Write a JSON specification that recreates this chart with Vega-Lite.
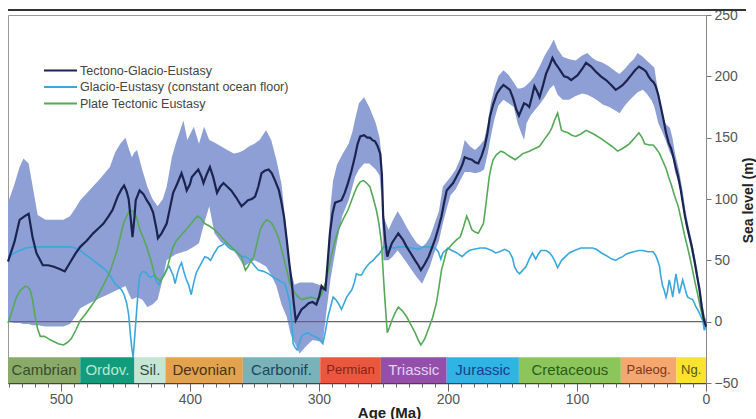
{
"$schema": "https://vega.github.io/schema/vega-lite/v6.json",
"width": 698, "height": 368,
"autosize": "none",
"padding": {"left": 8, "top": 15, "right": 50, "bottom": 36},
"background": "white",
"config": {"view": {"stroke": "#9a9a9a", "strokeWidth": 1}, "font": "Liberation Sans", "axis": {"labelOverlap": false}},
"resolve": {"axis": {"x": "independent"}},
"datasets": {
"band": [
{"age":541,"lo":0,"hi":97},{"age":536,"lo":-1,"hi":112},{"age":532,"lo":-1,"hi":126},{"age":529,"lo":-2,"hi":133},{"age":525,"lo":-2,"hi":129},{"age":522,"lo":-3,"hi":111},{"age":518,"lo":-3,"hi":87},{"age":512,"lo":-4,"hi":83},{"age":505,"lo":-4,"hi":83},{"age":498,"lo":-4,"hi":83},{"age":493,"lo":-2,"hi":86},{"age":489,"lo":4,"hi":92},{"age":485,"lo":11,"hi":99},{"age":478,"lo":15,"hi":107},{"age":470,"lo":19,"hi":116},{"age":462,"lo":23,"hi":126},{"age":458,"lo":25,"hi":138},{"age":454,"lo":27,"hi":145},{"age":450,"lo":29,"hi":150},{"age":447,"lo":22,"hi":140},{"age":445,"lo":18,"hi":134},{"age":443,"lo":19,"hi":138},{"age":441,"lo":20,"hi":140},{"age":437,"lo":18,"hi":124},{"age":433,"lo":12,"hi":110},{"age":429,"lo":14,"hi":100},{"age":425,"lo":18,"hi":94},{"age":421,"lo":35,"hi":100},{"age":418,"lo":50,"hi":110},{"age":414,"lo":53,"hi":134},{"age":411,"lo":55,"hi":145},{"age":405,"lo":57,"hi":164},{"age":402,"lo":58,"hi":148},{"age":397,"lo":61,"hi":159},{"age":393,"lo":64,"hi":145},{"age":389,"lo":80,"hi":159},{"age":385,"lo":94,"hi":148},{"age":381,"lo":72,"hi":146},{"age":376,"lo":65,"hi":143},{"age":371,"lo":62,"hi":140},{"age":366,"lo":58,"hi":137},{"age":362,"lo":52,"hi":138},{"age":358,"lo":45,"hi":140},{"age":354,"lo":48,"hi":143},{"age":350,"lo":50,"hi":145},{"age":346,"lo":48,"hi":148},{"age":341,"lo":45,"hi":156},{"age":337,"lo":38,"hi":148},{"age":333,"lo":29,"hi":132},{"age":329,"lo":14,"hi":112},{"age":325,"lo":4,"hi":72},{"age":322,"lo":-10,"hi":42},{"age":319,"lo":-17,"hi":30},{"age":315,"lo":-26,"hi":32},{"age":310,"lo":-20,"hi":32},{"age":305,"lo":-15,"hi":32},{"age":300,"lo":-16,"hi":30},{"age":297,"lo":-17,"hi":28},{"age":294,"lo":10,"hi":35},{"age":291,"lo":35,"hi":95},{"age":289,"lo":47,"hi":115},{"age":286,"lo":65,"hi":128},{"age":282,"lo":86,"hi":136},{"age":277,"lo":99,"hi":145},{"age":274,"lo":110,"hi":155},{"age":272,"lo":118,"hi":165},{"age":269,"lo":124,"hi":178},{"age":265,"lo":129,"hi":183},{"age":261,"lo":129,"hi":175},{"age":256,"lo":124,"hi":162},{"age":253,"lo":119,"hi":150},{"age":251.5,"lo":100,"hi":135},{"age":250,"lo":50,"hi":86},{"age":246,"lo":50,"hi":75},{"age":243,"lo":53,"hi":82},{"age":239,"lo":58,"hi":90},{"age":236,"lo":54,"hi":85},{"age":232,"lo":48,"hi":77},{"age":228,"lo":42,"hi":70},{"age":224,"lo":36,"hi":64},{"age":220,"lo":31,"hi":61},{"age":217,"lo":38,"hi":64},{"age":214,"lo":45,"hi":69},{"age":211,"lo":55,"hi":78},{"age":207,"lo":66,"hi":90},{"age":204,"lo":80,"hi":110},{"age":201,"lo":92,"hi":114},{"age":198,"lo":103,"hi":118},{"age":194,"lo":108,"hi":124},{"age":190,"lo":116,"hi":134},{"age":187,"lo":122,"hi":148},{"age":183,"lo":122,"hi":143},{"age":179,"lo":121,"hi":140},{"age":175,"lo":122,"hi":144},{"age":172,"lo":124,"hi":148},{"age":169,"lo":138,"hi":162},{"age":167,"lo":150,"hi":177},{"age":164,"lo":165,"hi":190},{"age":161,"lo":176,"hi":200},{"age":157,"lo":181,"hi":205},{"age":153,"lo":178,"hi":201},{"age":149,"lo":175,"hi":195},{"age":146,"lo":162,"hi":190},{"age":144,"lo":156,"hi":190},{"age":141,"lo":148,"hi":191},{"age":139,"lo":162,"hi":193},{"age":136,"lo":168,"hi":196},{"age":133,"lo":172,"hi":200},{"age":129,"lo":177,"hi":208},{"age":125,"lo":183,"hi":217},{"age":121,"lo":190,"hi":224},{"age":118,"lo":193,"hi":230},{"age":115,"lo":185,"hi":222},{"age":111,"lo":181,"hi":216},{"age":106,"lo":181,"hi":214},{"age":101,"lo":184,"hi":213},{"age":96,"lo":186,"hi":217},{"age":92,"lo":185,"hi":219},{"age":88,"lo":183,"hi":215},{"age":85,"lo":181,"hi":213},{"age":80,"lo":177,"hi":211},{"age":75,"lo":175,"hi":208},{"age":70,"lo":172,"hi":204},{"age":67,"lo":170,"hi":202},{"age":63,"lo":176,"hi":206},{"age":59,"lo":181,"hi":211},{"age":56,"lo":184,"hi":214},{"age":53,"lo":187,"hi":219},{"age":49,"lo":189,"hi":216},{"age":46,"lo":186,"hi":213},{"age":42,"lo":180,"hi":209},{"age":40,"lo":175,"hi":207},{"age":37,"lo":162,"hi":186},{"age":34,"lo":155,"hi":168},{"age":31,"lo":147,"hi":161},{"age":28,"lo":138,"hi":158},{"age":26,"lo":134,"hi":150},{"age":24,"lo":122,"hi":137},{"age":21,"lo":112,"hi":124},{"age":18,"lo":95,"hi":106},{"age":16,"lo":80,"hi":91},{"age":13,"lo":66,"hi":75},{"age":11,"lo":56,"hi":66},{"age":9,"lo":46,"hi":55},{"age":7,"lo":34,"hi":44},{"age":5,"lo":20,"hi":29},{"age":3,"lo":6,"hi":16},{"age":1,"lo":-4,"hi":4},{"age":0,"lo":-7,"hi":2}
],
"tge": [
{"age":541,"v":49},{"age":536,"v":65},{"age":532,"v":83},{"age":528,"v":86},{"age":525,"v":88},{"age":522,"v":69},{"age":519,"v":56},{"age":514,"v":46},{"age":510,"v":46},{"age":506,"v":45},{"age":501,"v":43},{"age":497,"v":41},{"age":493,"v":48},{"age":489,"v":55},{"age":485,"v":61},{"age":480,"v":66},{"age":475,"v":72},{"age":471,"v":76},{"age":467,"v":80},{"age":463,"v":86},{"age":460,"v":91},{"age":456,"v":102},{"age":453,"v":108},{"age":451,"v":111},{"age":449,"v":106},{"age":447.5,"v":100},{"age":446,"v":85},{"age":444.5,"v":69},{"age":443,"v":85},{"age":442,"v":99},{"age":439,"v":107},{"age":436,"v":104},{"age":433.5,"v":99},{"age":431,"v":95},{"age":428.5,"v":89},{"age":426,"v":76},{"age":424.8,"v":68},{"age":422,"v":72},{"age":418,"v":80},{"age":415,"v":95},{"age":413,"v":105},{"age":410,"v":112},{"age":406.5,"v":121},{"age":404,"v":113},{"age":402.5,"v":107},{"age":400,"v":112},{"age":398.5,"v":118},{"age":396,"v":121},{"age":393.5,"v":124},{"age":391,"v":118},{"age":389.5,"v":113},{"age":387,"v":120},{"age":384.5,"v":126},{"age":382,"v":118},{"age":379,"v":105},{"age":376.5,"v":110},{"age":374,"v":113},{"age":371,"v":110},{"age":368,"v":107},{"age":364,"v":101},{"age":360,"v":94},{"age":357,"v":97},{"age":355,"v":99},{"age":352,"v":100},{"age":349.5,"v":102},{"age":347,"v":110},{"age":344.5,"v":121},{"age":342,"v":123},{"age":339,"v":124},{"age":336.5,"v":121},{"age":334,"v":115},{"age":331,"v":107},{"age":329,"v":97},{"age":327,"v":85},{"age":325,"v":67},{"age":323,"v":48},{"age":321,"v":31},{"age":319.5,"v":15},{"age":318,"v":1},{"age":316,"v":5},{"age":313.5,"v":10},{"age":311,"v":12},{"age":308,"v":15},{"age":305,"v":16},{"age":302,"v":14},{"age":300,"v":20},{"age":298,"v":29},{"age":296.5,"v":27},{"age":295,"v":26},{"age":293.5,"v":45},{"age":291.5,"v":72},{"age":289.5,"v":88},{"age":287.5,"v":97},{"age":285,"v":98},{"age":282.5,"v":99},{"age":280,"v":105},{"age":277.5,"v":113},{"age":275,"v":122},{"age":272,"v":135},{"age":270,"v":145},{"age":268,"v":151},{"age":265,"v":152},{"age":262.5,"v":150},{"age":260.5,"v":150},{"age":258.5,"v":148},{"age":256.5,"v":147},{"age":254.5,"v":143},{"age":252.5,"v":137},{"age":251.2,"v":120},{"age":250.2,"v":86},{"age":248.5,"v":65},{"age":247,"v":53},{"age":245.5,"v":58},{"age":243.5,"v":64},{"age":241,"v":68},{"age":238.5,"v":72},{"age":235,"v":67},{"age":232,"v":61},{"age":229,"v":56},{"age":225.5,"v":50},{"age":223,"v":46},{"age":221,"v":42},{"age":218,"v":47},{"age":215,"v":53},{"age":212.5,"v":60},{"age":210,"v":67},{"age":207.5,"v":76},{"age":205,"v":86},{"age":203,"v":97},{"age":201,"v":107},{"age":198.5,"v":110},{"age":196,"v":113},{"age":193,"v":119},{"age":190.5,"v":124},{"age":188.5,"v":129},{"age":187,"v":134},{"age":184.5,"v":133},{"age":181.5,"v":132},{"age":179,"v":130},{"age":176.5,"v":129},{"age":174,"v":135},{"age":171.5,"v":143},{"age":169.5,"v":153},{"age":167.5,"v":167},{"age":165,"v":177},{"age":162,"v":186},{"age":159.5,"v":190},{"age":157,"v":193},{"age":154.5,"v":191},{"age":152,"v":189},{"age":149.5,"v":182},{"age":147,"v":173},{"age":145,"v":168},{"age":143,"v":173},{"age":141,"v":178},{"age":139,"v":177},{"age":137,"v":175},{"age":135,"v":183},{"age":133,"v":192},{"age":131,"v":188},{"age":129,"v":183},{"age":126.5,"v":192},{"age":124,"v":202},{"age":121.5,"v":208},{"age":119,"v":215},{"age":117,"v":211},{"age":115,"v":208},{"age":112.5,"v":204},{"age":110,"v":200},{"age":107,"v":199},{"age":104.5,"v":197},{"age":102,"v":199},{"age":99.5,"v":201},{"age":96,"v":206},{"age":93,"v":211},{"age":89,"v":208},{"age":85.5,"v":204},{"age":81.5,"v":200},{"age":77.5,"v":197},{"age":73.5,"v":193},{"age":70,"v":189},{"age":67,"v":191},{"age":64.5,"v":193},{"age":61,"v":197},{"age":58,"v":201},{"age":55,"v":205},{"age":52,"v":208},{"age":49,"v":206},{"age":46.5,"v":204},{"age":44.5,"v":200},{"age":42.5,"v":197},{"age":40.5,"v":195},{"age":39,"v":192},{"age":37,"v":185},{"age":35,"v":175},{"age":33,"v":165},{"age":31,"v":154},{"age":29,"v":146},{"age":27,"v":141},{"age":25,"v":133},{"age":23.5,"v":126},{"age":21.5,"v":118},{"age":19.5,"v":107},{"age":18,"v":97},{"age":16.3,"v":86},{"age":14.5,"v":77},{"age":13,"v":70},{"age":11,"v":61},{"age":9,"v":50},{"age":7.2,"v":39},{"age":5,"v":26},{"age":3.3,"v":12},{"age":1.5,"v":1},{"age":0,"v":-4}
],
"ge": [
{"age":541,"v":53},{"age":536,"v":56},{"age":532,"v":58},{"age":527,"v":60},{"age":521,"v":61},{"age":514,"v":61},{"age":508,"v":61},{"age":500,"v":61},{"age":493,"v":61},{"age":489,"v":60},{"age":485,"v":58},{"age":480,"v":54},{"age":475,"v":50},{"age":470,"v":46},{"age":465,"v":42},{"age":461,"v":36},{"age":458,"v":31},{"age":455,"v":28},{"age":453,"v":26},{"age":451,"v":22},{"age":449,"v":15},{"age":447.5,"v":6},{"age":446,"v":-12},{"age":445,"v":-22},{"age":444,"v":-29},{"age":443,"v":-15},{"age":442,"v":-1},{"age":440.5,"v":20},{"age":439,"v":37},{"age":437.5,"v":40},{"age":436,"v":41},{"age":434,"v":40},{"age":432,"v":37},{"age":430,"v":36},{"age":428,"v":38},{"age":426,"v":33},{"age":424,"v":30},{"age":422,"v":35},{"age":420,"v":38},{"age":418,"v":43},{"age":416,"v":45},{"age":414,"v":40},{"age":413,"v":38},{"age":411.5,"v":31},{"age":409.5,"v":40},{"age":408,"v":45},{"age":406.5,"v":48},{"age":404.5,"v":40},{"age":403,"v":35},{"age":401,"v":30},{"age":399,"v":22},{"age":397,"v":32},{"age":395,"v":40},{"age":393,"v":44},{"age":391,"v":48},{"age":388.5,"v":53},{"age":386,"v":52},{"age":384,"v":50},{"age":381,"v":56},{"age":378,"v":61},{"age":375.5,"v":62},{"age":373,"v":64},{"age":370.5,"v":61},{"age":368,"v":59},{"age":365,"v":58},{"age":362,"v":55},{"age":360,"v":53},{"age":357,"v":53},{"age":354,"v":51},{"age":351,"v":47},{"age":347,"v":42},{"age":343,"v":41},{"age":339,"v":39},{"age":335,"v":36},{"age":331.5,"v":34},{"age":328.5,"v":32},{"age":326.5,"v":31},{"age":324.5,"v":24},{"age":322.5,"v":15},{"age":321,"v":-2},{"age":320,"v":-18},{"age":318.5,"v":-21},{"age":317,"v":-23},{"age":315,"v":-17},{"age":313.5,"v":-12},{"age":311,"v":-10},{"age":308.5,"v":-9},{"age":306,"v":-11},{"age":303,"v":-12},{"age":300,"v":-14},{"age":298.5,"v":-16},{"age":297,"v":-18},{"age":295,"v":-8},{"age":293,"v":4},{"age":291,"v":12},{"age":289,"v":20},{"age":287,"v":18},{"age":285,"v":15},{"age":283.5,"v":12},{"age":282.5,"v":10},{"age":280.5,"v":15},{"age":278.5,"v":20},{"age":276.5,"v":23},{"age":274.5,"v":26},{"age":272.5,"v":32},{"age":271,"v":39},{"age":269,"v":38},{"age":267,"v":38},{"age":265,"v":42},{"age":263,"v":45},{"age":260.5,"v":48},{"age":258,"v":50},{"age":255.5,"v":53},{"age":253.5,"v":55},{"age":251.5,"v":58},{"age":250,"v":61},{"age":246,"v":61},{"age":242,"v":60},{"age":238,"v":61},{"age":233,"v":61},{"age":228,"v":60},{"age":223,"v":59},{"age":219,"v":61},{"age":214,"v":61},{"age":210,"v":60},{"age":207.5,"v":57},{"age":205.5,"v":51},{"age":204,"v":56},{"age":202,"v":58},{"age":200,"v":60},{"age":197,"v":58},{"age":193,"v":56},{"age":189,"v":53},{"age":186,"v":56},{"age":183.5,"v":58},{"age":180,"v":59},{"age":175,"v":60},{"age":171,"v":60},{"age":166,"v":58},{"age":163,"v":56},{"age":160,"v":57},{"age":156,"v":59},{"age":152.5,"v":57},{"age":150,"v":52},{"age":148.5,"v":45},{"age":146.5,"v":41},{"age":144.5,"v":39},{"age":142,"v":42},{"age":139.5,"v":45},{"age":137,"v":51},{"age":134.5,"v":56},{"age":132,"v":51},{"age":130,"v":55},{"age":128,"v":58},{"age":124,"v":58},{"age":121,"v":56},{"age":119,"v":53},{"age":117,"v":49},{"age":115,"v":44},{"age":113,"v":48},{"age":112,"v":50},{"age":109,"v":53},{"age":106,"v":56},{"age":102,"v":58},{"age":97,"v":60},{"age":92,"v":60},{"age":88,"v":60},{"age":85,"v":59},{"age":81,"v":56},{"age":77.5,"v":54},{"age":73,"v":51},{"age":70,"v":50},{"age":67,"v":52},{"age":64.5,"v":53},{"age":62,"v":55},{"age":59.5,"v":56},{"age":56,"v":57},{"age":52,"v":58},{"age":49,"v":58},{"age":45,"v":57},{"age":41,"v":57},{"age":39,"v":54},{"age":37.5,"v":50},{"age":36,"v":45},{"age":35,"v":37},{"age":33.6,"v":29},{"age":32.5,"v":26},{"age":31,"v":20},{"age":30,"v":24},{"age":28.5,"v":34},{"age":27,"v":27},{"age":25.8,"v":20},{"age":24.5,"v":30},{"age":23.3,"v":39},{"age":22,"v":31},{"age":20.7,"v":23},{"age":19.5,"v":28},{"age":18.1,"v":34},{"age":16.5,"v":28},{"age":15,"v":22},{"age":14.2,"v":20},{"age":12.5,"v":19},{"age":10.3,"v":18},{"age":9,"v":15},{"age":7.8,"v":12},{"age":6,"v":9},{"age":3.9,"v":4},{"age":2.5,"v":1},{"age":1.3,"v":-7},{"age":0,"v":-3}
],
"pte": [
{"age":541,"v":-1},{"age":538,"v":8},{"age":534.5,"v":20},{"age":531,"v":26},{"age":527.6,"v":29},{"age":525.5,"v":28},{"age":523.8,"v":26},{"age":522,"v":18},{"age":520,"v":4},{"age":518,"v":-6},{"age":516,"v":-12},{"age":513,"v":-12},{"age":511,"v":-13},{"age":508,"v":-15},{"age":506,"v":-16},{"age":502,"v":-18},{"age":498,"v":-19},{"age":495,"v":-17},{"age":492,"v":-14},{"age":488.5,"v":-7},{"age":485,"v":1},{"age":481,"v":6},{"age":477,"v":12},{"age":473,"v":18},{"age":469,"v":26},{"age":465,"v":34},{"age":461.5,"v":42},{"age":459,"v":50},{"age":456.5,"v":58},{"age":454,"v":69},{"age":451.5,"v":80},{"age":449,"v":86},{"age":446.5,"v":91},{"age":444.5,"v":90},{"age":442.5,"v":88},{"age":440.5,"v":82},{"age":438.8,"v":75},{"age":436,"v":68},{"age":433.5,"v":61},{"age":430,"v":49},{"age":427,"v":37},{"age":425,"v":35},{"age":423,"v":33},{"age":420.5,"v":37},{"age":418,"v":42},{"age":415.5,"v":52},{"age":413,"v":61},{"age":410.5,"v":66},{"age":408,"v":69},{"age":405.5,"v":72},{"age":403,"v":75},{"age":399,"v":80},{"age":396,"v":84},{"age":394,"v":86},{"age":391.5,"v":84},{"age":388.5,"v":80},{"age":385,"v":78},{"age":381,"v":75},{"age":378,"v":72},{"age":375.5,"v":69},{"age":372,"v":65},{"age":368,"v":61},{"age":364,"v":57},{"age":360,"v":53},{"age":358.5,"v":47},{"age":357,"v":42},{"age":355,"v":45},{"age":352.5,"v":50},{"age":350.5,"v":53},{"age":348,"v":64},{"age":345.5,"v":75},{"age":343,"v":80},{"age":340.5,"v":83},{"age":338.5,"v":82},{"age":336.5,"v":80},{"age":334,"v":75},{"age":331.5,"v":69},{"age":329.5,"v":61},{"age":327.5,"v":53},{"age":325,"v":42},{"age":322.5,"v":31},{"age":320.5,"v":27},{"age":318.5,"v":23},{"age":316,"v":20},{"age":313.5,"v":18},{"age":310,"v":19},{"age":306,"v":20},{"age":303,"v":19},{"age":300.5,"v":18},{"age":298,"v":22},{"age":295.5,"v":29},{"age":293,"v":40},{"age":290.5,"v":53},{"age":288,"v":64},{"age":285,"v":75},{"age":281,"v":84},{"age":277.5,"v":91},{"age":275,"v":98},{"age":272.5,"v":105},{"age":270.5,"v":110},{"age":268,"v":114},{"age":265.5,"v":115},{"age":263,"v":113},{"age":260.5,"v":110},{"age":258,"v":101},{"age":255.5,"v":91},{"age":253.5,"v":80},{"age":251.5,"v":64},{"age":250.5,"v":45},{"age":249,"v":20},{"age":248,"v":5},{"age":247,"v":-9},{"age":245.5,"v":-5},{"age":243.5,"v":1},{"age":241,"v":7},{"age":238.5,"v":12},{"age":235.5,"v":9},{"age":232,"v":4},{"age":229,"v":-2},{"age":225.5,"v":-9},{"age":223,"v":-15},{"age":221,"v":-19},{"age":218,"v":-14},{"age":215.5,"v":-7},{"age":212,"v":3},{"age":209,"v":15},{"age":207,"v":28},{"age":205,"v":42},{"age":203,"v":50},{"age":201,"v":58},{"age":198.5,"v":61},{"age":196,"v":64},{"age":193,"v":67},{"age":190.5,"v":69},{"age":188,"v":77},{"age":185.5,"v":86},{"age":183.5,"v":81},{"age":181.5,"v":75},{"age":179,"v":73},{"age":176.5,"v":72},{"age":174.5,"v":76},{"age":172.5,"v":80},{"age":171,"v":92},{"age":169.5,"v":105},{"age":168,"v":118},{"age":166.5,"v":126},{"age":165,"v":132},{"age":162.5,"v":136},{"age":159,"v":139},{"age":156.5,"v":138},{"age":154,"v":136},{"age":151,"v":134},{"age":148,"v":132},{"age":145.5,"v":134},{"age":142,"v":137},{"age":139.5,"v":138},{"age":137,"v":139},{"age":133,"v":141},{"age":129,"v":143},{"age":125,"v":149},{"age":121.5,"v":154},{"age":119.5,"v":158},{"age":117.5,"v":164},{"age":115,"v":170},{"age":113.5,"v":163},{"age":112,"v":156},{"age":110,"v":155},{"age":107,"v":154},{"age":104,"v":152},{"age":101,"v":151},{"age":97,"v":153},{"age":93,"v":156},{"age":89,"v":154},{"age":85.5,"v":152},{"age":81,"v":149},{"age":77,"v":146},{"age":73,"v":143},{"age":68.5,"v":139},{"age":65,"v":141},{"age":62,"v":143},{"age":59.5,"v":145},{"age":56,"v":149},{"age":52,"v":154},{"age":49.5,"v":150},{"age":47.5,"v":145},{"age":44,"v":144},{"age":41,"v":144},{"age":38.5,"v":141},{"age":36,"v":137},{"age":33.5,"v":131},{"age":31,"v":125},{"age":29,"v":118},{"age":27,"v":112},{"age":24.5,"v":103},{"age":21.5,"v":94},{"age":19,"v":82},{"age":16.3,"v":69},{"age":13.5,"v":57},{"age":11,"v":45},{"age":8.5,"v":32},{"age":6,"v":20},{"age":4,"v":10},{"age":2,"v":1},{"age":0,"v":-3}
],
"periods": [
{"name":"Cambrian","label":"Cambrian","start":541,"end":485},
{"name":"Ordovician","label":"Ordov.","start":485,"end":443},
{"name":"Silurian","label":"Sil.","start":443,"end":419},
{"name":"Devonian","label":"Devonian","start":419,"end":359},
{"name":"Carboniferous","label":"Carbonif.","start":359,"end":299},
{"name":"Permian","label":"Permian","start":299,"end":252},
{"name":"Triassic","label":"Triassic","start":252,"end":201},
{"name":"Jurassic","label":"Jurassic","start":201,"end":145},
{"name":"Cretaceous","label":"Cretaceous","start":145,"end":66},
{"name":"Paleogene","label":"Paleog.","start":66,"end":23},
{"name":"Neogene","label":"Ng.","start":23,"end":0}
]
},
"layer": [
{"data": {"name": "band"},
 "mark": {"type": "area", "color": "#8E9FD5", "opacity": 1},
 "encoding": {
  "x": {"field": "age", "type": "quantitative",
        "scale": {"domain": [0, 541], "reverse": true, "nice": false, "zero": false},
        "axis": {"orient": "bottom", "grid": false,
                 "values": [0,100,200,300,400,500],
                 "tickSize": 8, "tickColor": "#666", "domainColor": "#444", "domainWidth": 1.5,
                 "labelColor": "#555", "labelFontSize": 14, "labelPadding": 1, "labelFlush": false, "labelOverlap": false,
                 "title": "Age (Ma)", "titleFontSize": 15, "titleFontWeight": "bold", "titleColor": "#222",
                 "titleX": 381, "titleY": 22, "titleBaseline": "top", "titleAlign": "center"}},
  "y": {"field": "lo", "type": "quantitative",
        "scale": {"domain": [-50, 250], "nice": false, "zero": false},
        "axis": {"orient": "right", "grid": false, "values": [-50,0,50,100,150,200,250],
                 "tickSize": 5, "tickColor": "#777", "domainColor": "#888",
                 "labelColor": "#555", "labelFontSize": 14, "labelPadding": 3,
                 "title": "Sea level (m)", "titleFontSize": 14, "titleFontWeight": "bold", "titleColor": "#222",
                 "titleAngle": 270, "titleX": 46, "titleY": 185, "titleAlign": "center", "titleBaseline": "alphabetic"}},
  "y2": {"field": "hi"}
 }},
{"data": {"values": [{}]},
 "mark": {"type": "rule", "color": "#666", "strokeWidth": 1.2},
 "encoding": {"y": {"datum": 0}}},
{"data": {"name": "ge"},
 "mark": {"type": "line", "strokeWidth": 1.6},
 "encoding": {
  "x": {"field": "age", "type": "quantitative", "axis": null},
  "y": {"field": "v", "type": "quantitative"},
  "stroke": {"datum": "Glacio-Eustasy (constant ocean floor)", "type": "nominal",
             "scale": {"domain": ["Tectono-Glacio-Eustasy", "Glacio-Eustasy (constant ocean floor)", "Plate Tectonic Eustasy"],
                       "range": ["#1B2450", "#3AA8DC", "#55A957"]},
             "legend": {"orient": "none", "legendX": 46, "legendY": 49, "title": null, "padding": 0,
                        "symbolType": "M-3.3,0H3.3", "symbolSize": 100, "symbolStrokeWidth": 2.2,
                        "labelFontSize": 12.5, "labelColor": "#444", "labelFont": "Liberation Sans", "labelLimit": 400,
                        "rowPadding": 3.5, "labelOffset": 13}}
 }},
{"data": {"name": "pte"},
 "mark": {"type": "line", "strokeWidth": 1.6},
 "encoding": {
  "x": {"field": "age", "type": "quantitative", "axis": null},
  "y": {"field": "v", "type": "quantitative"},
  "stroke": {"datum": "Plate Tectonic Eustasy", "type": "nominal"}
 }},
{"data": {"name": "tge"},
 "mark": {"type": "line", "strokeWidth": 2.2},
 "encoding": {
  "x": {"field": "age", "type": "quantitative", "axis": null},
  "y": {"field": "v", "type": "quantitative"},
  "stroke": {"datum": "Tectono-Glacio-Eustasy", "type": "nominal"}
 }},
{"data": {"name": "periods"},
 "mark": {"type": "rect"},
 "encoding": {
  "x": {"field": "start", "type": "quantitative",
        "axis": {"orient": "bottom", "grid": false, "labels": false, "domain": false, "title": null,
                 "values": [10,20,30,40,50,60,70,80,90,110,120,130,140,150,160,170,180,190,210,220,230,240,250,260,270,280,290,310,320,330,340,350,360,370,380,390,410,420,430,440,450,460,470,480,490,510,520,530,540],
                 "tickSize": 4, "tickColor": "#666"}},
  "x2": {"field": "end"},
  "y": {"datum": -29},
  "y2": {"datum": -50},
  "fill": {"field": "name", "type": "nominal", "legend": null,
           "scale": {"domain": ["Cambrian","Ordovician","Silurian","Devonian","Carboniferous","Permian","Triassic","Jurassic","Cretaceous","Paleogene","Neogene"],
                     "range": ["#8AAA6A","#129C7E","#C5E5D5","#E3A34E","#7AB2BA","#EA573F","#934FAA","#2FB4E4","#8CC65A","#F6A66F","#F9E32E"]}}
 }},
{"data": {"name": "periods"},
 "transform": [{"calculate": "(datum.start + datum.end) / 2", "as": "mid"}],
 "mark": {"type": "text", "baseline": "middle", "align": "center", "font": "Liberation Sans"},
 "encoding": {
  "x": {"field": "mid", "type": "quantitative", "axis": null},
  "y": {"datum": -39.5},
  "text": {"field": "label"},
  "size": {"condition": {"test": "datum.name === 'Permian' || datum.name === 'Paleogene' || datum.name === 'Neogene'", "value": 13}, "value": 15},
  "color": {"field": "name", "type": "nominal", "legend": null,
            "scale": {"domain": ["Cambrian","Ordovician","Silurian","Devonian","Carboniferous","Permian","Triassic","Jurassic","Cretaceous","Paleogene","Neogene"],
                      "range": ["#3B4A2E","#BDE6D2","#3A4A40","#4A3312","#1D4556","#8E1F16","#E7CFF2","#1C3E8A","#2A5A1E","#7A3A1A","#5A5214"]}}
 }},
{"data": {"values": [{}]},
 "mark": {"type": "rule", "color": "#333", "strokeWidth": 2},
 "encoding": {"x": {"datum": 541, "axis": null}, "x2": {"datum": -31}, "y": {"datum": 254}}}
]
}
